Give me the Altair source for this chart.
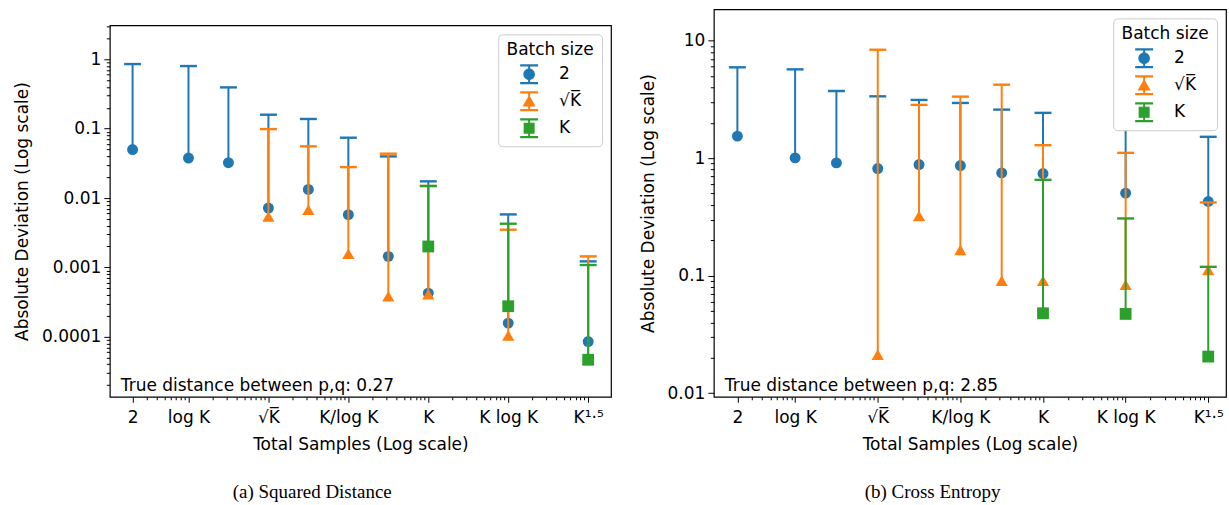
import altair as alt
import pandas as pd

# ---------------- data ----------------
series_names = ["2", "√K̅", "K"]
series_colors = ["#1f77b4", "#ff7f0e", "#2ca02c"]
series_shapes = ["circle", "triangle-up", "square"]
series_sizes = [120, 150, 140]

x_blue = [2, 10, 31.6, 100, 316, 1000, 3162, 10000, 100000, 1000000]
x_orange = [100, 316, 1000, 3162, 10000, 100000, 1000000]
x_green = [10000, 100000, 1000000]

# (a) Squared Distance
a_blue_pt = [0.050, 0.0377, 0.0323, 0.00716, 0.0133, 0.00574, 0.00144, 0.000425, 0.000157, 0.000085]
a_blue_cap = [0.855, 0.80, 0.394, 0.159, 0.138, 0.0741, 0.0398, 0.0174, 0.0058, 0.00122]
a_orange_pt = [0.0054, 0.00678, 0.00157, 0.000384, 0.00041, 0.000104, 0.000047]
a_orange_cap = [0.0987, 0.0556, 0.0279, 0.0436, 0.0149, 0.00349, 0.00144]
a_green_pt = [0.0020, 0.000275, 0.0000465]
a_green_cap = [0.0149, 0.00426, 0.00108]

# (b) Cross Entropy
b_blue_pt = [1.54, 1.006, 0.912, 0.816, 0.883, 0.865, 0.75, 0.74, 0.504, 0.428]
b_blue_cap = [5.93, 5.70, 3.73, 3.36, 3.13, 2.95, 2.59, 2.43, 2.38, 1.52]
b_orange_pt = [0.0213, 0.323, 0.166, 0.0907, 0.0907, 0.0838, 0.112]
b_orange_cap = [8.37, 2.84, 3.34, 4.22, 1.29, 1.11, 0.42]
b_green_pt = [0.0479, 0.0473, 0.0205]
b_green_cap = [0.654, 0.307, 0.119]

x_tick_values = [2, 10, 100, 1000, 10000, 100000, 1000000]
x_tick_labels = ["2", "log K", "√K̅", "K/log K", "K", "K log K", "K¹·⁵"]

a_annotation = "True distance between p,q: 0.27"
b_annotation = "True distance between p,q: 2.85"
a_caption = "(a) Squared Distance"
b_caption = "(b) Cross Entropy"

FONT = "DejaVu Sans"

# legend symbols: marker + error-bar caps (unit square paths)
caps = "M-0.9,-1H0.9V-0.78H-0.9Z M-0.9,0.78H0.9V1H-0.9Z M-0.1,-0.78H0.1V0.78H-0.1Z "
legend_paths = [
    caps + "M-0.58,0A0.58,0.58,0,1,1,0.58,0A0.58,0.58,0,1,1,-0.58,0Z",
    caps + "M0,-0.62L0.66,0.52L-0.66,0.52Z",
    caps + "M-0.55,-0.55H0.55V0.55H-0.55Z",
]


def x_minor_ticks(lo, hi):
    vals = []
    for e in range(0, 8):
        for k in range(2, 10):
            v = float(f"{k}e{e}")
            if lo <= v <= hi and v not in x_tick_values:
                vals.append(v)
    return vals


def y_ticks(lo, hi):
    majors, minors = [], []
    for e in range(-7, 3):
        v = float(f"1e{e}")
        if lo <= v <= hi:
            majors.append(v)
        for k in range(2, 10):
            m = float(f"{k}e{e}")
            if lo <= m <= hi:
                minors.append(m)
    return majors, minors


def build_panel(series_data, xdom, ydom, W, H, annotation):
    rows = []
    for name, (xs, pts, cps) in zip(series_names, series_data):
        for x, p, c in zip(xs, pts, cps):
            rows.append({"series": name, "x": x, "lo": p, "hi": c})
    df = pd.DataFrame(rows)

    xmin = x_minor_ticks(xdom[0], xdom[1])
    xvals = sorted(x_tick_values + xmin)
    lab = "''"
    for pos, text in reversed(list(zip(x_tick_values, x_tick_labels))):
        lab = f"datum.value == {pos} ? '{text}' : ({lab})"
    xmajor_test = "indexof(" + str(x_tick_values) + ", datum.value) >= 0"
    xaxis = alt.Axis(
        values=xvals, labelExpr=lab, title="Total Samples (Log scale)",
        tickSize={"condition": {"test": xmajor_test, "value": 5.5}, "value": 3},
        labelOverlap=False, labelFlush=False, labelPadding=7, titlePadding=11,
    )
    ymaj, ymin = y_ticks(ydom[0], ydom[1])
    ymajor_test = "indexof(" + str(ymaj) + ", datum.value) >= 0"
    yaxis = alt.Axis(
        values=sorted(ymaj + ymin), format="~g",
        labelExpr=f"{ymajor_test} ? datum.label : ''",
        tickSize={"condition": {"test": ymajor_test, "value": 6}, "value": 3.5},
        labelOverlap=False, labelFlush=False, labelPadding=3, titlePadding=10,
        title="Absolute Deviation (Log scale)",
    )
    xs = alt.Scale(type="log", domain=xdom, nice=False)
    ys = alt.Scale(type="log", domain=ydom, nice=False)
    X = alt.X("x:Q", scale=xs, axis=xaxis)

    base = alt.Chart(df)
    layers = []
    for name, color, shape, size in zip(series_names, series_colors, series_shapes, series_sizes):
        sub = base.transform_filter(alt.datum.series == name)
        layers.append(sub.mark_rule(color=color, strokeWidth=2).encode(
            x=X, y=alt.Y("lo:Q", scale=ys, axis=yaxis), y2="hi:Q"))
        layers.append(sub.mark_tick(color=color, orient="horizontal", size=17, thickness=2.4, opacity=1).encode(
            x=X, y=alt.Y("hi:Q", scale=ys, axis=yaxis)))
        layers.append(sub.mark_point(color=color, shape=shape, size=size, filled=True, opacity=1).encode(
            x=X, y=alt.Y("lo:Q", scale=ys, axis=yaxis)))

    ann = alt.Chart(pd.DataFrame({"t": [annotation]})).mark_text(
        align="left", baseline="alphabetic", font=FONT, fontSize=17, color="black"
    ).encode(x=alt.value(11), y=alt.value(H - 6), text="t:N")
    layers.append(ann)

    legend_layer = base.transform_filter("false").mark_point(filled=True, opacity=1).encode(
        color=alt.Color("series:N", scale=alt.Scale(domain=series_names, range=series_colors),
                        legend=alt.Legend(title="Batch size")),
        shape=alt.Shape("series:N", scale=alt.Scale(domain=series_names, range=legend_paths),
                        legend=alt.Legend(title="Batch size")),
    )
    layers.append(legend_layer)

    return alt.layer(*layers).properties(width=W, height=H)


left_layer = build_panel(
    [(x_blue, a_blue_pt, a_blue_cap), (x_orange, a_orange_pt, a_orange_cap), (x_green, a_green_pt, a_green_cap)],
    [1.038, 1.93e6], [1.36e-5, 3.09], 502, 372, a_annotation,
)
right_layer = build_panel(
    [(x_blue, b_blue_pt, b_blue_cap), (x_orange, b_orange_pt, b_orange_cap), (x_green, b_green_pt, b_green_cap)],
    [1.038, 1.64e6], [0.00933, 18.45], 513, 388, b_annotation,
)

# empty spacer that lowers the left panel so both plot frames end at the same baseline
spacer = (alt.Chart(pd.DataFrame({"s": [0]})).mark_point(opacity=0)
          .properties(width=502, height=6, view=alt.ViewBackground(stroke="transparent")))


def caption(text):
    return alt.TitleParams(text=text, orient="bottom", font="Liberation Serif", fontSize=19,
                           fontWeight="normal", anchor="middle", frame="bounds", offset=30, color="black")


def wrap(parts, text):
    return (alt.vconcat(*parts, spacing=0, title=caption(text))
            .resolve_scale(color="independent", shape="independent")
            .resolve_legend(color="independent", shape="independent"))


chart = (
    alt.hconcat(wrap([spacer, left_layer], a_caption), wrap([right_layer], b_caption), spacing=26)
    .resolve_scale(color="independent", shape="independent")
    .resolve_legend(color="independent", shape="independent")
    .properties(padding={"left": 12, "top": 8, "right": 2, "bottom": 0}, background="white")
    .configure_view(stroke="black", strokeWidth=1.2)
    .configure_axis(labelFont=FONT, titleFont=FONT, labelFontSize=17, titleFontSize=17,
                    titleFontWeight="normal", labelColor="black", titleColor="black",
                    tickColor="black", tickWidth=1, domain=False, grid=False)
    .configure_legend(orient="top-right", offset=9, padding=8, titleFont=FONT, labelFont=FONT,
                      titleFontSize=17, labelFontSize=17, titleFontWeight="normal",
                      titleColor="black", labelColor="black", titleAnchor="middle",
                      symbolSize=400, symbolStrokeWidth=0, rowPadding=7, labelOffset=20,
                      strokeColor="#cccccc", fillColor="white", cornerRadius=4)
)

chart.save("out.html", embed_options={"renderer": "svg", "actions": False})
